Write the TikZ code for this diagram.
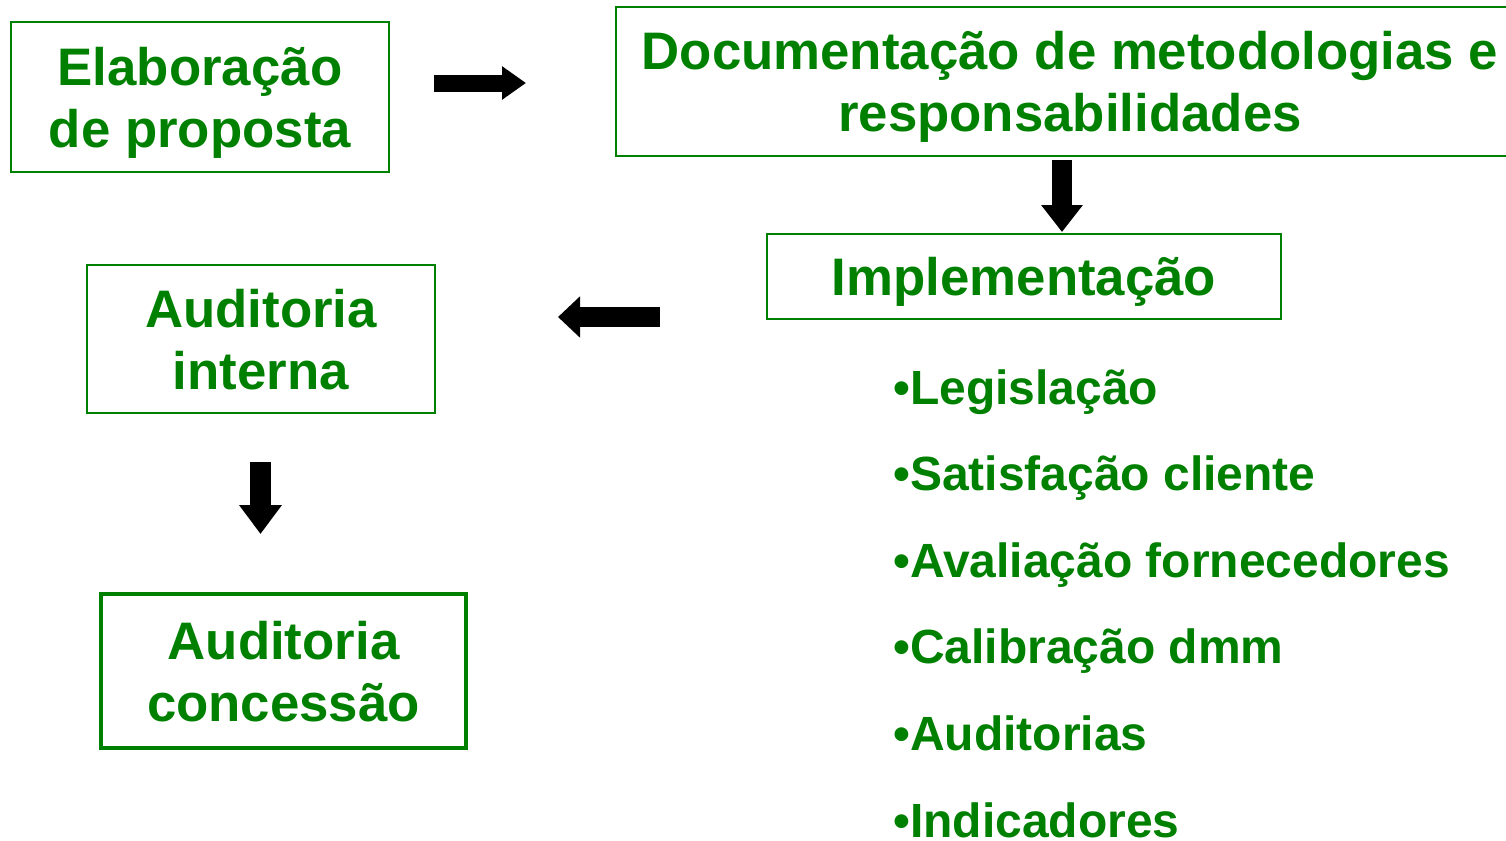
\documentclass[tikz,border=0pt]{standalone}
\usepackage{fontspec}
\setmainfont{Liberation Sans}
\usetikzlibrary{arrows.meta}
\definecolor{boxgreen}{RGB}{0,128,0}

\tikzset{
	stagebox/.style={draw=boxgreen, line width=1pt, inner sep=0pt, align=center, text depth=0pt,
		text=boxgreen, font=\bfseries\fontsize{26.4}{31}\selectfont},
	listitem/.style={anchor=base west, inner sep=0pt, text=boxgreen,
		font=\bfseries\fontsize{24}{28}\selectfont},
	blockarrow/.style={line width=10pt, -{Triangle[length=13.5pt,width=20pt]}}
}

\begin{document}
\begin{tikzpicture}[x=0.5pt, y=-0.5pt]
	\useasboundingbox (0,0) rectangle (1506,841);
	% stages
	\node (elab) [stagebox, minimum width=189pt, minimum height=75pt] at (200,97) {Elabora\c{c}\~ao\\de proposta};
	\node (doc) [stagebox, minimum width=454pt, minimum height=74.5pt] at (1070,81.5) {Documenta\c{c}\~ao de metodologias e\\responsabilidades};
	\node (impl) [stagebox, minimum width=257pt, minimum height=42.5pt] at (1024,276.5) {Implementa\c{c}\~ao};
	\node (audint) [stagebox, minimum width=174pt, minimum height=74pt] at (261,339) {Auditoria\\interna};
	\node (audcon) [stagebox, line width=2pt, minimum width=182.5pt, minimum height=77pt] at (283.5,671) {Auditoria\\concess\~ao};
	% items of the implementation
	\node (leg) [listitem] at (893,404) {\textbullet Legisla\c{c}\~ao};
	\node (sat) [listitem] at (893,490.6) {\textbullet Satisfa\c{c}\~ao cliente};
	\node (aval) [listitem] at (893,577.2) {\textbullet Avalia\c{c}\~ao fornecedores};
	\node (cal) [listitem] at (893,663.8) {\textbullet Calibra\c{c}\~ao dmm};
	\node (aud) [listitem] at (893,750.4) {\textbullet Auditorias};
	\node (ind) [listitem] at (893,837) {\textbullet Indicadores};
	% arrow ends
	\coordinate (a1s) at (434,83);
	\coordinate (a1e) at (526,83);
	\coordinate (a2s) at (1062,160);
	\coordinate (a2e) at (1062,232);
	\coordinate (a3s) at (660,317);
	\coordinate (a3e) at (558,317);
	\coordinate (a4s) at (260.5,462);
	\coordinate (a4e) at (260.5,534);
	\draw [blockarrow, line width=8.5pt, -{Triangle[length=12pt,width=16pt]}] (a1s) -- (a1e);
	\draw [blockarrow] (a2s) -- (a2e);
	\draw [blockarrow, -{Triangle[length=11pt,width=20pt]}] (a3s) -- (a3e);
	\draw [blockarrow, line width=10.5pt, -{Triangle[length=14.5pt,width=20.5pt]}] (a4s) -- (a4e);
\end{tikzpicture}
\end{document}
